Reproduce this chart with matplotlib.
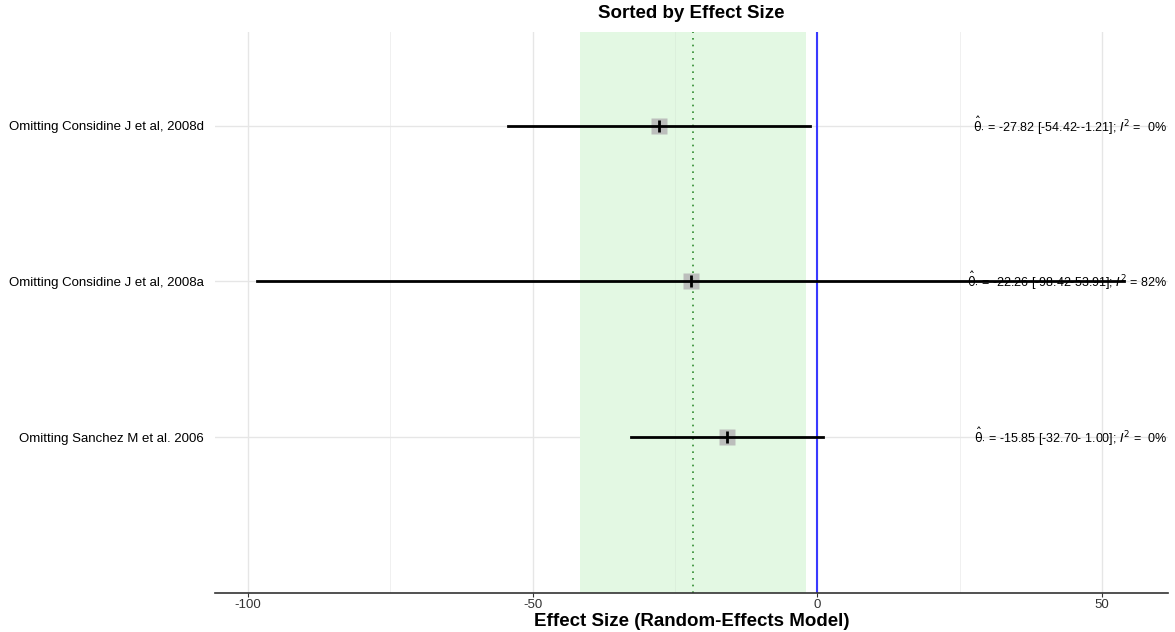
import matplotlib
matplotlib.use("Agg")
import matplotlib.pyplot as plt
import numpy as np

labels = ["Omitting Considine J et al, 2008d",
          "Omitting Considine J et al, 2008a",
          "Omitting Sanchez M et al. 2006"]
est = [-27.82, -22.26, -15.85]
lower = [-54.42, -98.42, -32.70]
upper = [-1.21, 53.91, 1.00]
i2 = [0, 82, 0]
pooled = -21.9
pooled_lo = -41.7
pooled_hi = -1.9
xticks = [-100, -50, 0, 50]

plt.rcParams['font.family'] = ['Liberation Sans', 'DejaVu Sans']

W, H = 1175, 632
fig = plt.figure(figsize=(W/100, H/100), dpi=100)
ax = fig.add_axes([215/W, 1-593/H, (1168-215)/W, (593-32)/H])

ypos = [3, 2, 1]
ax.set_xlim(-105.8, 61.6)
ax.set_ylim(0, 3.6)

# grid
for x in [-100, -50, 0, 50]:
    ax.axvline(x, color='#e6e6e6', lw=1.0, zorder=0)
for x in [-75, -25, 25]:
    ax.axvline(x, color='#f0f0f0', lw=0.7, zorder=0)
for y in ypos:
    ax.axhline(y, color='#e6e6e6', lw=1.0, zorder=0)

ax.axvspan(pooled_lo, pooled_hi, color='#e3f8e3', zorder=1, lw=0)
ax.axvline(-25, color='#dcefdc', lw=0.7, zorder=1.5)
ax.axvline(pooled, color='#2e8b2e', ls=(0, (1, 3)), lw=1.2, zorder=2)
ax.axvline(0, color='#3a3aff', lw=1.5, zorder=2)

for y, e, lo, hi in zip(ypos, est, lower, upper):
    ax.plot([lo, hi], [y, y], color='black', lw=2, zorder=4)
    ax.plot([e], [y], marker='s', ms=11, color='#b8b8b8', mec='none', zorder=3, alpha=0.9)
    ax.plot([e], [y], marker='|', ms=9, mew=2, color='black', zorder=5)

for y, e, lo, hi, ii in zip(ypos, est, lower, upper, i2):
    txt = (r'$\hat{\mathrm{\theta}}_{\cdot}$' + f' = {e:.2f} [{lo:.2f}-{hi:5.2f}]; ' +
           r'$I^2$' + f' = {ii:2d}%')
    ax.text(0.999, y, txt, transform=ax.get_yaxis_transform(), ha='right', va='center',
            fontsize=9, zorder=6)

ax.set_yticks(ypos)
ax.set_yticklabels(labels, fontsize=9.5)
ax.tick_params(axis='y', length=0, pad=8)
ax.set_xticks(xticks)
ax.set_xticklabels([str(t) for t in xticks], fontsize=9.5)
ax.tick_params(axis='x', length=3, pad=1, color='#333333', labelcolor='#333333')

for s in ['top', 'right', 'left']:
    ax.spines[s].set_visible(False)
ax.spines['bottom'].set_color('#333333')
ax.spines['bottom'].set_linewidth(1.2)

fig.text((215 + 1168) / 2 / W, 1 - 622/H, 'Effect Size (Random-Effects Model)',
         fontsize=13.5, fontweight='bold', ha='center', va='center')
fig.text((215 + 1168) / 2 / W, 1 - 14/H, 'Sorted by Effect Size',
         fontsize=13.5, fontweight='bold', ha='center', va='center')

fig.savefig('out.png', dpi=100)
